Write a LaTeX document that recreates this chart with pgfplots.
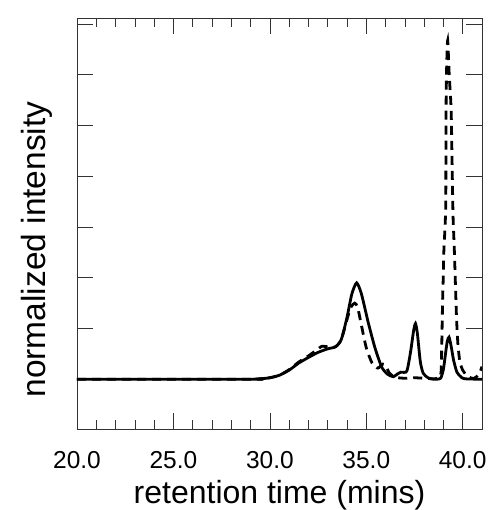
\documentclass[border=0pt]{standalone}
\usepackage{fontspec}
\setmainfont{Liberation Sans}
\usepackage{pgfplots}
\pgfplotsset{compat=1.18}
\begin{document}
\begin{tikzpicture}
\begin{axis}[
  width=405pt, height=411pt, scale only axis,
  xmin=20, xmax=41, ymin=-0.98, ymax=7.12,
  xtick={20,25,30,35,40}, minor x tick num=4,
  ytick={0,1,2,3,4,5,6,7}, yticklabels={},
  tick align=inside,
  major tick length=16pt, minor tick length=9pt,
  xticklabel style={font=\fontsize{24.5}{29}\selectfont, yshift=-19pt},
  /pgf/number format/fixed, /pgf/number format/fixed zerofill,
  /pgf/number format/precision=1, /pgf/number format/assume math mode=true,
  xlabel={retention time (mins)}, ylabel={normalized intensity},
  xlabel style={font=\fontsize{32}{37}\selectfont, yshift=-5pt},
  ylabel style={font=\fontsize{33.5}{38}\selectfont, yshift=14pt, xshift=-26pt},
  axis line style={line width=0.7pt, black!80},
  every tick/.style={line width=0.7pt, black!80},
  clip=true,
]
\addplot[line width=2.8pt, black, smooth, tension=0.4] coordinates {
(20,0) (29,0) (29.5,0.01) (30,0.03) (30.5,0.08) (31,0.18) (31.5,0.32) (32,0.43)
(32.5,0.53) (33,0.6) (33.4,0.64) (33.7,0.78) (34.0,1.22) (34.25,1.68) (34.5,1.9)
(34.75,1.68) (35.1,1.12) (35.45,0.62) (35.8,0.24) (36.1,0.1) (36.4,0.05) (36.6,0.1)
(36.8,0.14) (37.1,0.16) (37.3,0.55) (37.45,0.95) (37.55,1.1) (37.65,0.9) (37.8,0.35)
(37.95,0.12) (38.2,0.03) (38.5,0.0) (38.85,0.02) (39.0,0.2) (39.1,0.48) (39.2,0.75)
(39.29,0.83) (39.4,0.65) (39.53,0.37) (39.7,0.14) (39.9,0.05) (40.1,0.01) (41,0)
};
\addplot[line width=2.8pt, black, dash pattern=on 9pt off 6pt, smooth, tension=0.4] coordinates {
(20,0) (29,0) (29.5,0.01) (30,0.03) (30.5,0.08) (31,0.19) (31.5,0.34) (32,0.46)
(32.4,0.57) (32.7,0.65) (33.0,0.64) (33.4,0.64) (33.7,0.78) (34.0,1.18) (34.2,1.42)
(34.4,1.5) (34.55,1.42) (34.75,1.06) (35.0,0.62) (35.3,0.32) (35.6,0.22) (35.85,0.3)
(36.0,0.27) (36.2,0.12) (36.5,0.04) (37.0,0.02) (37.5,0.03) (38.0,0.02) (38.5,0.01)
(38.8,0.03) (38.88,0.15) (38.91,0.6) (38.93,1.0) (38.96,1.6) (38.99,2.0) (39.02,2.5)
(39.07,2.9) (39.12,3.4) (39.13,4.5) (39.14,5.5) (39.17,6.2) (39.22,6.68) (39.30,6.0)
(39.40,5.3) (39.46,4.0) (39.50,3.2) (39.56,2.6) (39.62,1.9) (39.68,1.2) (39.75,0.7)
(39.85,0.35) (40.0,0.18) (40.2,0.08) (40.4,0.03) (40.6,0.02) (40.85,0.1) (41.0,0.25)
};
\end{axis}
\pgfresetboundingbox
\path (current axis.south west) ++(-77pt,-81pt) coordinate (bbA);
\path (current axis.north east) ++(11pt,18pt) coordinate (bbB);
\path[use as bounding box] (bbA) rectangle (bbB);
\end{tikzpicture}
\end{document}
